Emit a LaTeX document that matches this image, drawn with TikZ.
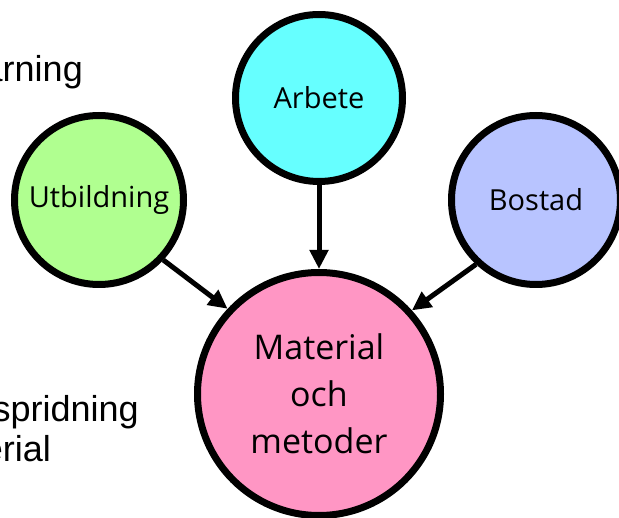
\documentclass[tikz,border=0pt]{standalone}
\usepackage{fontspec}
\setmainfont{Open Sans}
\newfontfamily\arialfont{Liberation Sans}
\usetikzlibrary{arrows.meta}

\definecolor{arbetecol}{RGB}{102,255,255}
\definecolor{utbcol}{RGB}{176,255,144}
\definecolor{bostadcol}{RGB}{184,196,255}
\definecolor{matcol}{RGB}{255,150,196}

\tikzset{
	topic/.style={circle, draw=black, line width=7pt, minimum size=169pt, inner sep=0pt, font=\fontsize{29}{35}\selectfont},
	core/.style={circle, draw=black, line width=7pt, minimum size=243pt, inner sep=0pt, align=center, font=\fontsize{34}{47}\selectfont},
	link/.style={line width=5pt, -{Triangle[length=19pt,width=18pt]}},
	sidetext/.style={anchor=base east, inner sep=0pt, font=\arialfont\fontsize{36}{42}\selectfont}
}

\begin{document}
\begin{tikzpicture}[x=1pt, y=-1pt]
		%%%%% START %%%%%
		\useasboundingbox (0, 0) rectangle (619, 518);
		
		% left text, cut by the edge
		\node[sidetext] (txtA) at (83, 82) {arning};
		\node[sidetext] (txtB) at (139, 422) {spridning};
		\node[sidetext] (txtC) at (51, 462) {erial};
		
		% circles
		\node[topic, fill=arbetecol, minimum size=167pt] (arbete) at (319, 98) {Arbete};
		\node[topic, fill=utbcol] (utb) at (99, 200) {Utbildning};
		\node[topic, fill=bostadcol] (bostad) at (536, 200) {Bostad};
		\node[core, fill=matcol] (mat) at (319, 394) {Material\\och\\metoder};
		
		% arrows
		\draw[link] (arbete.south) -- (mat.north);
		\draw[link] (utb.-43) -- (mat.137);
		\draw[link] (bostad.-133) -- (mat.42);
		%%%%% END %%%%%
	\end{tikzpicture}
\end{document}
